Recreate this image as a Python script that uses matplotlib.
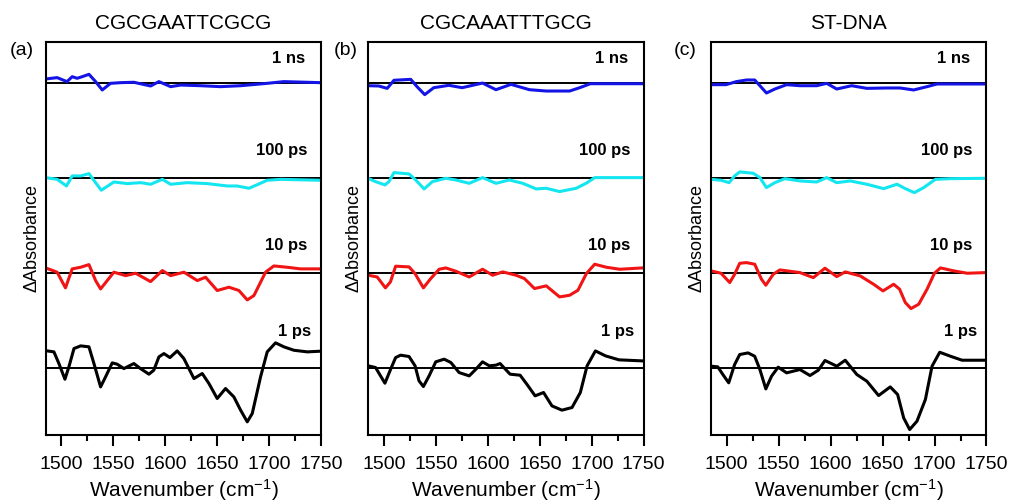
import matplotlib
matplotlib.use('Agg')
import matplotlib.pyplot as plt
from matplotlib.ticker import MultipleLocator

plt.rcParams['font.family'] = ['Liberation Sans', 'DejaVu Sans']
plt.rcParams['mathtext.fontset'] = 'custom'
plt.rcParams['mathtext.rm'] = 'Liberation Sans'
plt.rcParams['mathtext.it'] = 'Liberation Sans'

# panel titles and delay labels
titles = ['CGCGAATTCGCG', 'CGCAAATTTGCG', 'ST-DNA']
panel_tags = ['(a)', '(b)', '(c)']
delays = ['1 ps', '10 ps', '100 ps', '1 ns']
colors = ['black', '#f01414', '#14e6f0', '#1414e6']

# (a) CGCGAATTCGCG
a_1ps_x = [1485, 1486.5, 1492.9, 1497.7, 1503.5, 1507.3, 1512.2, 1518.6, 1526.6, 1531.4, 1537.8, 1542.6, 1549.0,
           1553.8, 1560.2, 1569.8, 1576.2, 1584.3, 1589, 1593.9, 1598.7, 1604.5, 1611.5, 1617.9, 1627.6, 1635.6,
           1642, 1650, 1658, 1666, 1672.5, 1678.9, 1683.7, 1691.7, 1698.1, 1706.1, 1714.1, 1723.7, 1736.6, 1749.4]
a_1ps_y = [0.175, 0.175, 0.165, 0.042, -0.123, 0.007, 0.2, 0.228, 0.218, 0.042, -0.204, -0.098, 0.049,
           0.035, -0.011, 0.042, -0.011, -0.07, -0.028, 0.112, 0.147, 0.105, 0.175, 0.095, -0.116, -0.063,
           -0.168, -0.326, -0.221, -0.309, -0.449, -0.572, -0.484, -0.098, 0.165, 0.26, 0.218, 0.182, 0.165, 0.172]
a_10ps_x = [1485, 1496, 1504, 1510.5, 1518.6, 1526.6, 1533, 1537.8, 1550.6, 1561.9, 1571.5, 1585.9, 1597.2,
            1605.2, 1618, 1630.8, 1638.8, 1650, 1661.3, 1670.9, 1678.9, 1685.3, 1696.5, 1704.5, 1717.3, 1730.1, 1749.4]
a_10ps_y = [0.049, 0.004, -0.161, 0.039, 0.056, 0.084, -0.084, -0.172, 0.004, -0.032, -0.007, -0.095, 0.021,
            -0.032, 0.004, -0.084, -0.049, -0.189, -0.154, -0.189, -0.288, -0.242, 0.004, 0.07, 0.056, 0.039, 0.039]
a_100ps_x = [1485, 1496, 1505, 1510.5, 1518.6, 1526.6, 1533, 1538.5, 1550.6, 1563.5, 1576.3, 1585.9, 1597.2,
             1605.2, 1621.2, 1640.4, 1659.7, 1669, 1680.5, 1688, 1698.1, 1711, 1749.4]
a_100ps_y = [0, -0.018, -0.088, 0.018, 0.018, 0.042, -0.053, -0.133, -0.046, -0.063, -0.053, -0.07, -0.018,
             -0.07, -0.053, -0.063, -0.088, -0.088, -0.112, -0.077, -0.028, -0.018, -0.028]
a_1ns_x = [1485, 1496, 1505.5, 1510.5, 1515.3, 1520.1, 1526.6, 1533, 1539.4, 1547.4, 1557, 1569.8, 1585.9,
           1593.9, 1605.2, 1614.8, 1634, 1653.2, 1672.5, 1698.1, 1714.1, 1749.4]
a_1ns_y = [0.039, 0.053, 0.011, 0.063, 0.046, 0.063, 0.088, 0.011, -0.077, -0.007, 0, 0.004, -0.035,
           0.011, -0.042, -0.025, -0.032, -0.042, -0.032, -0.007, 0.011, 0]

# (b) CGCAAATTTGCG
b_1ps_x = [1484.8, 1492, 1496.8, 1501, 1506.5, 1511.3, 1516.1, 1524.2, 1530, 1533.8, 1538, 1543.5, 1549.9,
           1558, 1564.4, 1572.4, 1582.1, 1588.5, 1594.9, 1601.4, 1607.8, 1611.8, 1621.4, 1631.1, 1637.5, 1645.5,
           1653.6, 1661.7, 1671.3, 1681, 1689, 1695.5, 1703.5, 1713.2, 1726.1, 1748.6]
b_1ps_y = [0.018, 0, -0.088, -0.165, -0.018, 0.105, 0.13, 0.116, 0.018, -0.14, -0.2, -0.088, 0.06,
           0.088, 0.053, -0.053, -0.088, -0.018, 0.06, 0.018, 0.025, 0.042, -0.07, -0.081, -0.175, -0.298,
           -0.263, -0.404, -0.449, -0.421, -0.263, 0.018, 0.175, 0.123, 0.081, 0.07]
b_10ps_x = [1484.8, 1493.5, 1501.5, 1506.3, 1511.3, 1524.2, 1530, 1538, 1545.1, 1553.2, 1559.6, 1569.3, 1582.1,
            1594.9, 1604.6, 1614.3, 1627.2, 1635.2, 1644.9, 1656.2, 1669, 1678.7, 1686.7, 1694.8, 1702.8, 1714.1,
            1726.9, 1748.6]
b_10ps_y = [-0.028, -0.046, -0.161, -0.098, 0.067, 0.06, -0.011, -0.161, -0.063, 0.035, 0.049, 0.014, -0.046,
            0.035, -0.028, 0.007, -0.028, -0.063, -0.168, -0.14, -0.256, -0.239, -0.186, -0.011, 0.088, 0.056,
            0.035, 0.049]
b_100ps_x = [1484.8, 1491.9, 1501, 1504.9, 1509.7, 1524.2, 1530.6, 1538.7, 1546.7, 1559.6, 1569.3, 1582.1, 1594.9,
             1607.8, 1620.7, 1633.6, 1646.5, 1656.2, 1669, 1685.1, 1694.8, 1702.8, 1748.6]
b_100ps_y = [-0.007, -0.042, -0.077, -0.042, 0.053, 0.039, -0.025, -0.119, -0.042, -0.007, -0.025, -0.06, 0,
             -0.06, -0.025, -0.06, -0.119, -0.112, -0.147, -0.112, -0.058, 0, 0]
b_1ns_x = [1484.8, 1495.1, 1503.2, 1509.7, 1525.8, 1532.2, 1539.3, 1548, 1562.5, 1575.3, 1594.9, 1607.8, 1622.3,
           1640, 1656.2, 1678.7, 1688.4, 1698.7, 1748.6]
b_1ns_y = [-0.032, -0.035, -0.06, 0.025, 0.035, -0.046, -0.126, -0.053, -0.028, -0.053, -0.004, -0.074, -0.018,
           -0.074, -0.088, -0.088, -0.053, -0.011, -0.011]

# (c) ST-DNA
c_1ps_x = [1485, 1491.5, 1496.4, 1502, 1507.7, 1512.6, 1520.6, 1527, 1532, 1537.7, 1543.2, 1549.6, 1557.7,
           1570.5, 1580.2, 1588.2, 1594.6, 1599.4, 1606, 1614.1, 1625.3, 1634.9, 1646.2, 1657.4, 1664.5, 1670.3,
           1676.1, 1683.1, 1691.2, 1697.6, 1705, 1715.3, 1726.5, 1750]
c_1ps_y = [0.014, 0.007, -0.074, -0.161, 0.032, 0.137, 0.154, 0.119, -0.021, -0.225, -0.091, 0.004, -0.056,
           -0.021, -0.084, -0.028, 0.074, 0.049, 0.014, 0.077, -0.074, -0.144, -0.295, -0.204, -0.284, -0.530,
           -0.653, -0.565, -0.337, 0.014, 0.161, 0.119, 0.077, 0.077]
c_10ps_x = [1485, 1494.6, 1503, 1507.7, 1512.6, 1519, 1527, 1533.5, 1537.7, 1544.8, 1551.2, 1570.5, 1583.4,
            1594.6, 1605.9, 1614.1, 1628.5, 1641.4, 1650.4, 1660.7, 1666.4, 1671.9, 1677.4, 1684.8, 1692.8, 1699.9,
            1705.7, 1718.5, 1731.4, 1750]
c_10ps_y = [0.018, -0.007, -0.105, -0.018, 0.098, 0.105, 0.088, -0.07, -0.133, -0.018, 0.028, 0, -0.053,
            0.046, -0.042, 0.007, -0.035, -0.123, -0.193, -0.123, -0.175, -0.316, -0.379, -0.333, -0.175, -0.007,
            0.049, 0.018, -0.007, 0]
c_100ps_x = [1485, 1494.6, 1502.4, 1507.7, 1512.6, 1525.5, 1532, 1538.3, 1546.4, 1556, 1570.5, 1586.6, 1596.3,
             1605.9, 1618.9, 1634.9, 1651, 1663.9, 1671.9, 1680.6, 1689.6, 1700.8, 1715.3, 1750]
c_100ps_y = [-0.018, -0.028, -0.053, 0.018, 0.06, 0.046, 0, -0.105, -0.053, -0.011, -0.035, -0.046, 0,
             -0.053, -0.035, -0.07, -0.116, -0.07, -0.116, -0.158, -0.105, -0.018, -0.011, -0.007]
c_1ns_x = [1485, 1499.4, 1509.4, 1519, 1527, 1532, 1538.3, 1546.4, 1557.7, 1570.5, 1586.6, 1596.3, 1605.9,
           1620.3, 1634.9, 1654.1, 1666.9, 1679.9, 1692.8, 1702.4, 1750]
c_1ns_y = [-0.021, -0.021, 0.011, 0.028, 0.028, -0.032, -0.109, -0.067, -0.021, -0.032, -0.032, -0.007, -0.067,
           -0.032, -0.06, -0.056, -0.056, -0.077, -0.042, -0.014, -0.014]

panels = [
    [(a_1ps_x, a_1ps_y), (a_10ps_x, a_10ps_y), (a_100ps_x, a_100ps_y), (a_1ns_x, a_1ns_y)],
    [(b_1ps_x, b_1ps_y), (b_10ps_x, b_10ps_y), (b_100ps_x, b_100ps_y), (b_1ns_x, b_1ns_y)],
    [(c_1ps_x, c_1ps_y), (c_10ps_x, c_10ps_y), (c_100ps_x, c_100ps_y), (c_1ns_x, c_1ns_y)],
]

fig = plt.figure(figsize=(10.09, 5.04), dpi=100)

# axes boxes, in figure fraction
lefts = [0.0453, 0.365, 0.7047]
tag_x = [0.022, 0.343, 0.679]
# where the delay labels sit: right edge (axes fraction) and height above baseline
lab_x = [0.965, 0.95, 0.95, 0.942]
lab_dy = [0.38, 0.29, 0.29, 0.25]

for i in range(3):
    ax = fig.add_axes([lefts[i], 0.137, 0.273, 0.78])
    for k in range(4):
        xs, ys = panels[i][k]
        ax.axhline(k, color='black', lw=1.4, zorder=1)
        ax.plot(xs, [v + k for v in ys], color=colors[k], lw=2.2, zorder=2,
                solid_joinstyle='round')
        ax.text(lab_x[k], k + lab_dy[k], delays[k], transform=ax.get_yaxis_transform(),
                ha='right', va='center', fontsize=12, fontweight='bold')

    ax.set_xlim(1485, 1750)
    ax.set_ylim(-0.71, 3.43)
    ax.set_yticks([])
    ax.xaxis.set_major_locator(MultipleLocator(50))
    ax.xaxis.set_minor_locator(MultipleLocator(25))
    ax.tick_params(axis='x', which='major', direction='out', length=8, width=1.5, labelsize=14, pad=7)
    ax.tick_params(axis='x', which='minor', direction='out', length=4.5, width=1.5)
    for s in ax.spines.values():
        s.set_linewidth(1.5)

    ax.set_title(titles[i], fontsize=15, pad=9)
    ax.set_xlabel('Wavenumber (cm$^{-1}$)', fontsize=15, labelpad=3)
    ax.set_ylabel('\u0394Absorbance', fontsize=13, labelpad=4)
    fig.text(tag_x[i], 0.9, panel_tags[i], fontsize=14, ha='center', va='center')

plt.savefig('out.png', dpi=100)
